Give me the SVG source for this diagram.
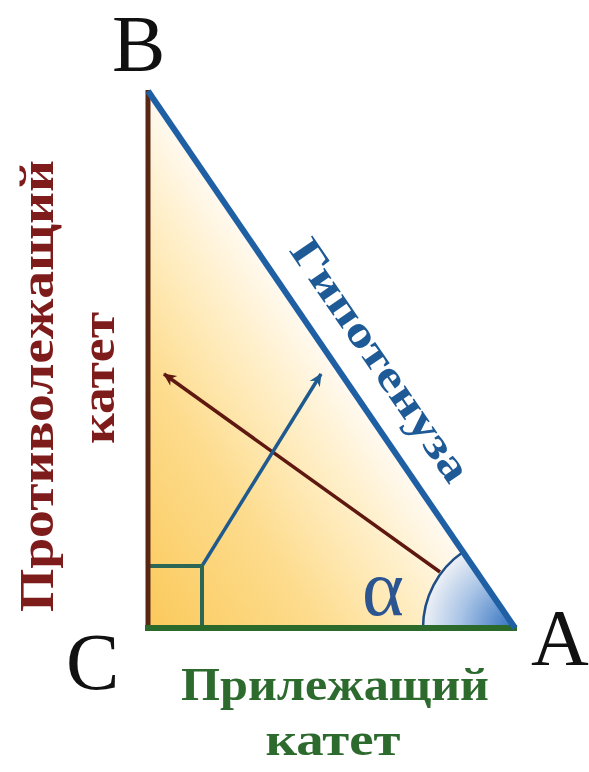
<svg xmlns="http://www.w3.org/2000/svg" width="589" height="772" viewBox="0 0 589 772">
<style>
.lbl{font-family:"Liberation Serif","Times New Roman",serif;font-size:80px;fill:#111}
.bold{font-family:"Liberation Serif","Times New Roman",serif;font-weight:bold}
</style>
<defs>
<linearGradient id="fillG" gradientUnits="userSpaceOnUse" x1="160" y1="620" x2="400" y2="458">
<stop offset="0" stop-color="#fbcb60"/>
<stop offset="0.45" stop-color="#fddc8e"/>
<stop offset="0.8" stop-color="#fff0cc"/>
<stop offset="1" stop-color="#fffaf2"/>
</linearGradient>
<radialGradient id="blueG" gradientUnits="userSpaceOnUse" cx="515" cy="628" r="92">
<stop offset="0" stop-color="#2f6fbf"/>
<stop offset="0.6" stop-color="#a9c4e6"/>
<stop offset="1" stop-color="#eef1f6"/>
</radialGradient>
<marker id="ahR" markerWidth="16" markerHeight="14" refX="12" refY="6" orient="auto" markerUnits="userSpaceOnUse">
<path d="M0,0 L13,6 L0,12 L4,6 Z" fill="#5e1810"/>
</marker>
<marker id="ahB" markerWidth="16" markerHeight="14" refX="12" refY="6" orient="auto" markerUnits="userSpaceOnUse">
<path d="M0,0 L13,6 L0,12 L4,6 Z" fill="#1f5a8f"/>
</marker>
</defs>
<rect width="589" height="772" fill="#ffffff"/>
<g id="triangle">
<polygon points="148,92 515,628 148,628" fill="url(#fillG)"/>
<path d="M515,628 L423,628 A92,92 0 0 1 463,552 Z" fill="url(#blueG)"/>
</g>
<g id="connectors">
<line x1="440" y1="572" x2="164" y2="374" stroke="#5e1810" stroke-width="3.5" marker-end="url(#ahR)"/>
<line x1="202" y1="566" x2="321" y2="374" stroke="#1f5a8f" stroke-width="3.5" marker-end="url(#ahB)"/>
<path d="M423,628 A92,92 0 0 1 463,552" fill="none" stroke="#1f4f86" stroke-width="2.5"/>
<polyline points="148,566 202,566 202,628" fill="none" stroke="#2c6655" stroke-width="4"/>
<line x1="148" y1="90" x2="148" y2="630" stroke="#5a2614" stroke-width="5"/>
<line x1="145" y1="628" x2="517" y2="628" stroke="#2b6a2b" stroke-width="6"/>
<line x1="148" y1="91" x2="515" y2="628" stroke="#1f5fa3" stroke-width="6"/>
</g>
<g id="vertex-B"><text class="lbl" x="112" y="71">B</text></g>
<g id="vertex-C"><text class="lbl" x="66" y="689">C</text></g>
<g id="vertex-A"><text class="lbl" x="531" y="665">A</text></g>
<g id="angle-alpha"><text x="362" y="615" font-family="Liberation Serif, serif" font-size="80" fill="#2a5590">α</text></g>
<g id="label-opposite">
<text class="bold" transform="translate(53,386) rotate(-90)" text-anchor="middle" font-size="49" fill="#7e1c1c" textLength="452" lengthAdjust="spacingAndGlyphs">Противолежащий</text>
<text class="bold" transform="translate(114,378) rotate(-90)" text-anchor="middle" font-size="49" fill="#7e1c1c" textLength="132" lengthAdjust="spacingAndGlyphs">катет</text>
</g>
<g id="label-hypotenuse">
<text class="bold" transform="translate(369,368) rotate(55.6)" text-anchor="middle" font-size="43" fill="#1e5a96" textLength="285" lengthAdjust="spacingAndGlyphs">Гипотенуза</text>
</g>
<g id="label-adjacent">
<text class="bold" x="335" y="700" text-anchor="middle" font-size="46" fill="#2d6a2d" textLength="308" lengthAdjust="spacingAndGlyphs">Прилежащий</text>
<text class="bold" x="333" y="755" text-anchor="middle" font-size="46" fill="#2d6a2d" textLength="135" lengthAdjust="spacingAndGlyphs">катет</text>
</g>
</svg>
